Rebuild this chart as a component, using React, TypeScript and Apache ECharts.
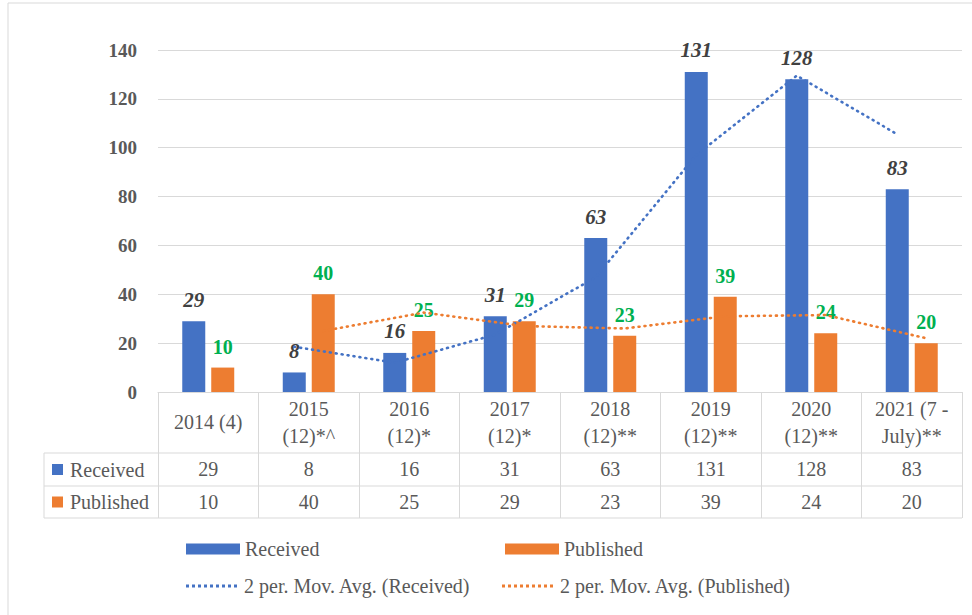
import React, { useEffect, useRef } from "react";
import * as echarts from "echarts";

// ---- data ----
const categories = [
  "2014 (4)",
  "2015\n(12)*^",
  "2016\n(12)*",
  "2017\n(12)*",
  "2018\n(12)**",
  "2019\n(12)**",
  "2020\n(12)**",
  "2021 (7 -\nJuly)**",
];
const received = [29, 8, 16, 31, 63, 131, 128, 83];
const published = [10, 40, 25, 29, 23, 39, 24, 20];
const seriesNames = ["Received", "Published"];
const trendNames = ["2 per. Mov. Avg. (Received)", "2 per. Mov. Avg. (Published)"];
const yMin = 0;
const yMax = 140;
const yInterval = 20;
const maPeriod = 2;

// ---- layout / style ----
const W = 972;
const H = 615;
const GRID_LEFT = 158;
const GRID_RIGHT = 10;
const GRID_TOP = 50;
const GRID_BOTTOM = 223;
const BAR_W = 23;
const BAR_GAP_PX = 6;
const BLUE = "#4472C4";
const ORANGE = "#ED7D31";
const GREEN = "#00B050";
const TEXT = "#595959";
const LINE = "#D9D9D9";
const FONT = "Liberation Serif";

const catW = (W - GRID_LEFT - GRID_RIGHT) / categories.length;
const barOffset = (BAR_W + BAR_GAP_PX) / 2 / catW;
const axisY = H - GRID_BOTTOM;
const row1Y = axisY + 61; // border under header
const row2Y = row1Y + 33;
const row3Y = row2Y + 32;
const tableLeft = 44;

// dotted legend icon: 9 small square dots
const DOT_ICON =
  "path://" +
  Array.from({ length: 9 }, (_, k) => `M${k * 6},0h3v3h-3z`).join("");

function movingAvg(arr: number[], period: number, offset: number) {
  const out: number[][] = [];
  for (let i = period - 1; i < arr.length; i++) {
    let s = 0;
    for (let k = 0; k < period; k++) s += arr[i - k];
    out.push([i + offset, s / period]);
  }
  return out;
}

const maReceived = movingAvg(received, maPeriod, -barOffset);
const maPublished = movingAvg(published, maPeriod, barOffset);

const tableAxis = (values: number[], margin: number) => ({
  type: "category",
  data: values.map(String),
  gridIndex: 0,
  position: "bottom",
  axisLine: { show: false },
  axisTick: { show: false },
  splitLine: { show: false },
  axisLabel: {
    interval: 0,
    margin,
    verticalAlign: "middle",
    color: TEXT,
    fontSize: 20,
    fontFamily: FONT,
  },
});

const legendBase = {
  orient: "horizontal",
  selectedMode: false,
  itemGap: 0,
  padding: 0,
  textStyle: { color: TEXT, fontSize: 20, fontFamily: FONT },
};

const option: any = {
  animation: false,
  backgroundColor: "#ffffff",
  textStyle: { fontFamily: FONT },
  grid: {
    left: GRID_LEFT,
    right: GRID_RIGHT,
    top: GRID_TOP,
    bottom: GRID_BOTTOM,
    containLabel: false,
  },
  xAxis: [
    {
      type: "category",
      data: categories,
      position: "bottom",
      axisLine: { show: true, lineStyle: { color: LINE, width: 1 } },
      axisTick: { show: true, length: row3Y - axisY, lineStyle: { color: LINE, width: 1 } },
      axisLabel: {
        interval: 0,
        margin: 30,
        verticalAlign: "middle",
        lineHeight: 27,
        color: TEXT,
        fontSize: 20,
        fontFamily: FONT,
      },
    },
    tableAxis(received, row1Y - axisY + 16),
    tableAxis(published, row2Y - axisY + 16),
    {
      type: "value",
      min: -0.5,
      max: categories.length - 0.5,
      show: false,
      gridIndex: 0,
    },
  ],
  yAxis: {
    type: "value",
    min: yMin,
    max: yMax,
    interval: yInterval,
    axisLine: { show: false },
    axisTick: { show: false },
    splitLine: { lineStyle: { color: LINE, width: 1 } },
    axisLabel: {
      margin: 21,
      color: TEXT,
      fontSize: 19,
      fontWeight: "bold",
      fontFamily: FONT,
    },
  },
  legend: [
    { ...legendBase, data: [seriesNames[0]], left: 186, top: 539, itemWidth: 54, itemHeight: 11, icon: "rect" },
    { ...legendBase, data: [seriesNames[1]], left: 505, top: 539, itemWidth: 54, itemHeight: 11, icon: "rect" },
    { ...legendBase, data: [trendNames[0]], left: 186, top: 576, itemWidth: 55, itemHeight: 3, icon: DOT_ICON },
    { ...legendBase, data: [trendNames[1]], left: 502, top: 576, itemWidth: 55, itemHeight: 3, icon: DOT_ICON },
  ],
  series: [
    {
      name: seriesNames[0],
      type: "bar",
      xAxisIndex: 0,
      data: received,
      barWidth: BAR_W,
      barGap: `${Math.round((BAR_GAP_PX / BAR_W) * 100)}%`,
      itemStyle: { color: BLUE },
      label: {
        show: true,
        position: "top",
        distance: 11,
        color: "#404040",
        fontSize: 21,
        fontStyle: "italic",
        fontWeight: "bold",
        fontFamily: FONT,
      },
    },
    {
      name: seriesNames[1],
      type: "bar",
      xAxisIndex: 0,
      data: published,
      barWidth: BAR_W,
      itemStyle: { color: ORANGE },
      label: {
        show: true,
        position: "top",
        distance: 11,
        color: GREEN,
        fontSize: 20,
        fontWeight: "bold",
        fontFamily: FONT,
      },
    },
    {
      name: trendNames[0],
      type: "line",
      xAxisIndex: 3,
      data: maReceived,
      symbol: "none",
      z: 5,
      lineStyle: { color: BLUE, width: 2.6, type: [1, 5], cap: "round" },
      itemStyle: { color: BLUE },
    },
    {
      name: trendNames[1],
      type: "line",
      xAxisIndex: 3,
      data: maPublished,
      symbol: "none",
      z: 5,
      lineStyle: { color: ORANGE, width: 2.6, type: [1, 5], cap: "round" },
      itemStyle: { color: ORANGE },
    },
  ],
  graphic: [
    {
      type: "rect",
      shape: { x: 8, y: 3, width: W + 10, height: H + 10 },
      style: { fill: "none", stroke: LINE, lineWidth: 1 },
      silent: true,
    },
    ...[row1Y, row2Y, row3Y].map((y) => ({
      type: "line",
      shape: { x1: tableLeft, y1: y, x2: W - GRID_RIGHT, y2: y },
      style: { stroke: LINE, lineWidth: 1 },
      silent: true,
    })),
    {
      type: "line",
      shape: { x1: tableLeft, y1: row1Y, x2: tableLeft, y2: row3Y },
      style: { stroke: LINE, lineWidth: 1 },
      silent: true,
    },
    ...seriesNames.flatMap((name, i) => {
      const cy = i === 0 ? (row1Y + row2Y) / 2 : (row2Y + row3Y) / 2;
      return [
        {
          type: "rect",
          shape: { x: 52, y: cy - 5.5, width: 11, height: 11 },
          style: { fill: i === 0 ? BLUE : ORANGE },
          silent: true,
        },
        {
          type: "text",
          x: 70,
          y: cy,
          style: {
            text: name,
            fill: TEXT,
            fontSize: 20,
            fontFamily: FONT,
            verticalAlign: "middle",
          },
          silent: true,
        },
      ];
    }),
  ],
};

export default function App() {
  const ref = useRef<HTMLDivElement>(null);
  useEffect(() => {
    document.body.style.margin = "0";
    const chart = echarts.init(ref.current!, null, { renderer: "svg" });
    chart.setOption(option);
    return () => chart.dispose();
  }, []);
  return (
    <div
      ref={ref}
      style={{ width: W, height: H, position: "fixed", left: 0, top: 0, background: "#fff" }}
    />
  );
}
